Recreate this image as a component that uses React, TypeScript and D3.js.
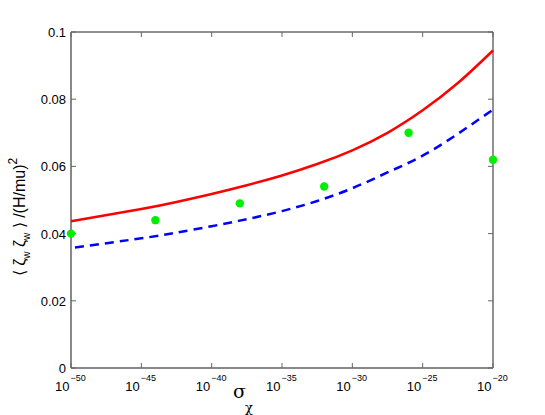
import * as d3 from 'd3'

// sigma_chi as exponent of 10
const curveExp = [-50, -45, -42.5, -40, -37.5, -35, -32.5, -30, -27.5, -25, -22.5, -20]
const redVal = [0.0437, 0.0473, 0.0494, 0.0518, 0.0544, 0.0573, 0.0607, 0.0648, 0.0700, 0.0767, 0.0848, 0.0945]
const blueVal = [0.0357, 0.0386, 0.0403, 0.0422, 0.0443, 0.0467, 0.0497, 0.0535, 0.0582, 0.0632, 0.0697, 0.0769]
const dotExp = [-50, -44, -38, -32, -26, -20]
const dotVal = [0.040, 0.044, 0.049, 0.054, 0.070, 0.062]
const xTickExp = [-50, -45, -40, -35, -30, -25, -20]
const yTicks = [0, 0.02, 0.04, 0.06, 0.08, 0.1]

export default function App() {
  const width = 545
  const height = 415
  const margin = { top: 32, right: 52, bottom: 47, left: 71 }
  const x0 = margin.left
  const x1 = width - margin.right
  const y0 = height - margin.bottom
  const y1 = margin.top

  const xScale = d3.scaleLog().domain([1e-50, 1e-20]).range([x0, x1])
  const yScale = d3.scaleLinear().domain([0, 0.1]).range([y0, y1])

  const line = d3.line<[number, number]>()
    .x(d => xScale(Math.pow(10, d[0])))
    .y(d => yScale(d[1]))
    .curve(d3.curveNatural)

  const redPath = line(curveExp.map((e, i) => [e, redVal[i]]))
  const bluePath = line(curveExp.map((e, i) => [e, blueVal[i]]))

  const font = 'Liberation Sans, Arial, Helvetica, sans-serif'
  const tickLen = 5

  return (
    <svg width={width} height={height} style={{ position: 'absolute', left: 0, top: 0, background: '#fff' }}
      fontFamily={font}>
      {/* frame */}
      <line x1={x0} x2={x1} y1={y1} y2={y1} stroke="#222" strokeWidth={1} />
      <line x1={x1} x2={x1} y1={y1} y2={y0} stroke="#222" strokeWidth={1} />
      <line x1={x0} x2={x0} y1={y1} y2={y0} stroke="#888" strokeWidth={2} />
      <line x1={x0} x2={x1} y1={y0} y2={y0} stroke="#888" strokeWidth={2} />

      {xTickExp.map(e => {
        const x = xScale(Math.pow(10, e))
        return (
          <g key={'x' + e}>
            <line x1={x} x2={x} y1={y0} y2={y0 - tickLen} stroke="#666" />
            <line x1={x} x2={x} y1={y1} y2={y1 + tickLen} stroke="#666" />
            <text x={x - 1.5} y={y0 + 23} textAnchor="end" fontSize={13}>10</text>
            <text x={x - 0.5} y={y0 + 13} fontSize={9}>{'\u2212' + Math.abs(e)}</text>
          </g>
        )
      })}

      {yTicks.map(v => {
        const y = yScale(v)
        return (
          <g key={'y' + v}>
            <line x1={x0} x2={x0 + tickLen} y1={y} y2={y} stroke="#666" />
            <line x1={x1} x2={x1 - tickLen} y1={y} y2={y} stroke="#666" />
            <text x={x0 - 5} y={y + 5} textAnchor="end" fontSize={13}>{String(v)}</text>
          </g>
        )
      })}

      <path d={redPath ?? ''} fill="none" stroke="#ff0000" strokeWidth={2.5} />
      <path d={bluePath ?? ''} fill="none" stroke="#0000ff" strokeWidth={2.5}
        strokeDasharray="9,6" strokeDashoffset={11} />

      {dotExp.map((e, i) => (
        <circle key={'d' + e} cx={xScale(Math.pow(10, e))} cy={yScale(dotVal[i])} r={4.2} fill="#00ee00" />
      ))}

      {/* x label */}
      <text x={233} y={398} fontSize={19} fontFamily="DejaVu Serif, serif">σ</text>
      <text x={245} y={412} fontSize={13} fontFamily="DejaVu Serif, serif">χ</text>

      {/* y label */}
      <text transform="translate(25,217) rotate(-90)" textAnchor="middle" fontSize={16}>
        <tspan>{'\u27E8 ζ'}</tspan>
        <tspan fontSize={10} dy={5}>w</tspan>
        <tspan dy={-5}>{' ζ'}</tspan>
        <tspan fontSize={10} dy={5}>w</tspan>
        <tspan dy={-5}>{' \u27E9 /(H/mu)'}</tspan>
        <tspan fontSize={12} dy={-8}>2</tspan>
      </text>
    </svg>
  )
}
